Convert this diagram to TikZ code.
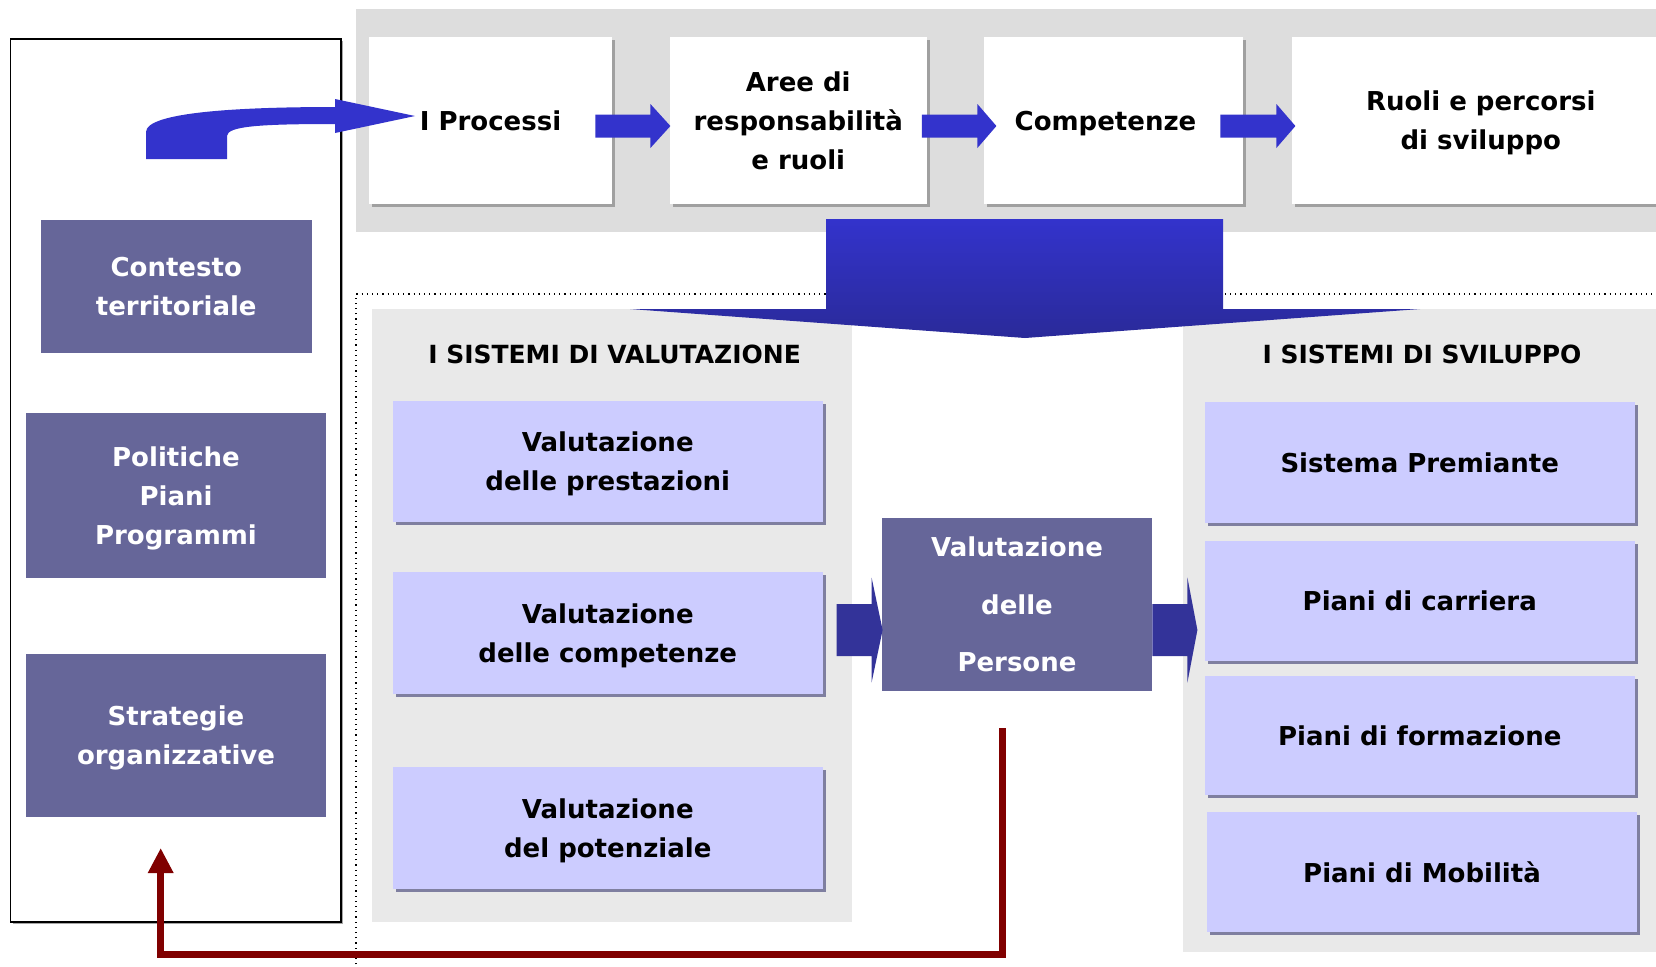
\documentclass[tikz,border=0pt]{standalone}
\usepackage{fontspec}
\setmainfont{DejaVu Sans}
\usetikzlibrary{calc,arrows.meta,shadows}

\definecolor{bandgray}{HTML}{DDDDDD}
\definecolor{panelgray}{HTML}{E9E9E9}
\definecolor{purplebox}{HTML}{666699}
\definecolor{lavender}{HTML}{CCCCFF}
\definecolor{lavshadow}{HTML}{7F7FA0}
\definecolor{flowblue}{HTML}{3333CC}
\definecolor{flowdark}{HTML}{2A2A99}
\definecolor{navyarrow}{HTML}{333399}
\definecolor{loopred}{HTML}{800000}
\definecolor{cardshadow}{HTML}{A0A0A0}

% block arrow: start point, body length, head length, body half height, head half height, colour
\newcommand{\blockarrow}[6]{%
  \fill[#6] (#1) ++(0,-#4) -- ++(#2,0) -- ++(0,#4-#5) -- ++(#3,#5)
    -- ++(-#3,#5) -- ++(0,#4-#5) -- ++(-#2,0) -- cycle;}

\tikzset{
  base/.style={font=\bfseries\fontsize{13}{19.5}\selectfont, align=center,
    inner sep=0pt, text depth=0pt},
  purplecard/.style={base, fill=purplebox, text=white},
  whitecard/.style={base, fill=white,
    general shadow={fill=cardshadow, shadow xshift=1.5pt, shadow yshift=-1.5pt}},
  lavcard/.style={base, fill=lavender,
    general shadow={fill=lavshadow, shadow xshift=1.5pt, shadow yshift=-1.5pt}},
  heading/.style={font=\bfseries\fontsize{12.5}{15}\selectfont, inner sep=0pt},
}

\begin{document}
\begin{tikzpicture}[x=0.5pt, y=-0.5pt]
\useasboundingbox (0,0) rectangle (1656,966);
\clip (0,0) rectangle (1656,966);
\fill[white] (0,0) rectangle (1656,966);

% left context frame
\node[draw=black, line width=0.75pt, fill=white, inner sep=0pt,
      minimum width=165.25pt, minimum height=441.5pt,
      general shadow={fill=gray!70, shadow xshift=1pt, shadow yshift=-1pt}]
      (frame) at (175.75,480.5) {};

\node[purplecard, minimum width=135.25pt, minimum height=66.5pt] (ctx) at (176.25,286.5) {Contesto\\territoriale};
\node[purplecard, minimum width=150pt, minimum height=82.5pt] (pol) at (176,495.5) {Politiche\\Piani\\Programmi};
\node[purplecard, minimum width=150pt, minimum height=81.5pt] (str) at (176,735.5) {Strategie\\organizzative};

% top process band
\fill[bandgray] (356,8.5) rectangle (1670,232);

% dotted frame of the evaluation area
\draw[dotted, line width=0.6pt] (356,980) -- (356,294) -- (1670,294);

% evaluation / development panels
\fill[panelgray] (372,309) rectangle (852,922);
\fill[panelgray] (1183,309) rectangle (1670,952);

% process cards
\node[whitecard, minimum width=121.5pt, minimum height=83.5pt] (p1) at (490.5,120.5) {I Processi};
\node[whitecard, minimum width=128.75pt, minimum height=83.5pt] (p2) at (798.25,120.5) {Aree di\\responsabilità\\e ruoli};
\node[whitecard, minimum width=129.5pt, minimum height=83.5pt, inner xsep=0pt] (p3) at (1113.5,120.5)
  {\hspace*{-8pt}Competenze};
\node[whitecard, minimum width=189.25pt, minimum height=83.5pt] (p4) at (1480.75,120.5) {Ruoli e percorsi\\di sviluppo};

% arrows between process cards
\blockarrow{$(p1.east)+(-17,5.5)$}{55}{20}{11.5}{22}{flowblue}
\blockarrow{$(p2.east)+(-5.5,5.5)$}{55.5}{19}{11.5}{22}{flowblue}
\blockarrow{$(p3.east)+(-23,5.5)$}{56}{19}{11.5}{22}{flowblue}

% bent arrow from the context frame into the processes
\coordinate (bendtip) at (415,116);
\fill[flowblue] (146,159) -- (146,132) .. controls (146,112) and (240,107) .. (335,107)
  -- (335,99) -- (bendtip) -- (335,133) -- (335,124)
  .. controls (262,124) and (227,126) .. (227,136) -- (227,159) -- cycle;

% large downward arrow
\shade[top color=flowblue, bottom color=flowdark]
  (826,219) -- (1223,219) -- (1223,309) -- (1420,309) -- (1025,338)
  -- (630,309) -- (826,309) -- cycle;

% headings
\node[heading] (hval) at (614.6,354) {I SISTEMI DI VALUTAZIONE};
\node[heading] (hsvi) at (1422,354) {I SISTEMI DI SVILUPPO};

% evaluation systems
\node[lavcard, minimum width=214.75pt, minimum height=60.5pt] (v1) at (607.75,461.5) {Valutazione\\delle prestazioni};
\node[lavcard, minimum width=214.75pt, minimum height=61pt] (v2) at (607.75,633) {Valutazione\\delle competenze};
\node[lavcard, minimum width=214.75pt, minimum height=61pt] (v3) at (607.75,828) {Valutazione\\del potenziale};

% development systems
\node[lavcard, minimum width=215.25pt, minimum height=60.5pt] (s1) at (1419.75,462.5) {Sistema Premiante};
\node[lavcard, minimum width=215.25pt, minimum height=60pt] (s2) at (1419.75,601) {Piani di carriera};
\node[lavcard, minimum width=215.25pt, minimum height=59.5pt] (s3) at (1419.75,735.5) {Piani di formazione};
\node[lavcard, minimum width=215pt, minimum height=60pt] (s4) at (1422,872) {Piani di Mobilità};

% central assessment box
\node[purplecard, font=\bfseries\fontsize{13}{28.75}\selectfont,
      minimum width=135pt, minimum height=86.5pt] (vp) at (1017,604.5) {Valutazione\\delle\\Persone};

% arrows into and out of the central box
\blockarrow{$(vp.west)+(-45,25.5)$}{35}{11}{26}{52.5}{navyarrow}
\blockarrow{$(vp.east)+(0,25.5)$}{35}{10}{26}{52.5}{navyarrow}

% feedback loop back to the organisational strategies
\coordinate (loopstart) at (1002.6,728);
\coordinate (loopbottom) at (0,954);
\coordinate (looptip) at (160.7,848);
\draw[loopred, line width=3.5pt, -{Triangle[width=12pt,length=12.5pt]}]
  (loopstart) -- (loopstart |- loopbottom) -| (looptip);

\end{tikzpicture}
\end{document}
